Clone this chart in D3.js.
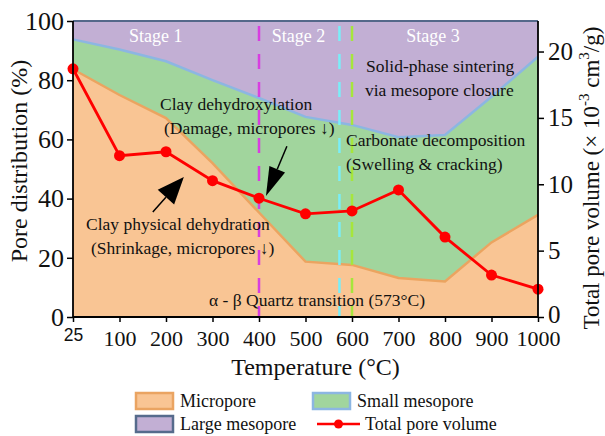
<!DOCTYPE html>
<html>
<head>
<meta charset="utf-8">
<script src="https://cdn.jsdelivr.net/npm/d3@7"></script>
<style>
  html, body { margin: 0; padding: 0; background: #fff; }
  svg { display: block; }
  svg text { font-family: "Liberation Serif", "Tinos", "Times New Roman", "DejaVu Serif", serif; fill: #111; }
</style>
</head>
<body>
<svg id="chart" width="605" height="436"></svg>
<script>
const SERIF = '"Liberation Serif", "Tinos", "Times New Roman", "DejaVu Serif", serif';
const SANS = '"Liberation Sans", Arial, "DejaVu Sans", sans-serif';

// Calcination temperatures (°C)
const temperatures = [25, 100, 200, 300, 400, 500, 600, 700, 800, 900, 1000];
// Pore size distribution (%), per class
const micropore      = [83.7, 75.0, 67.2, 52.0, 35.3, 18.7, 17.6, 13.2, 12.0, 25.2, 34.5];
const smallMesopore  = [10.1, 15.4, 19.2, 28.0, 38.7, 48.9, 47.3, 47.5, 49.5, 49.2, 53.4];
const largeMesopore  = [ 6.2,  9.6, 13.6, 20.0, 26.0, 32.4, 35.1, 39.3, 38.5, 25.6, 12.1];
// Total pore volume (×10^-3 cm^3/g)
const totalVolume    = [18.7, 12.15, 12.45, 10.27, 8.95, 7.77, 7.99, 9.57, 6.02, 3.16, 2.1];
// Axis ticks
const xTicks = [25, 100, 200, 300, 400, 500, 600, 700, 800, 900, 1000];
const yTicks = [0, 20, 40, 60, 80, 100];
const y2Ticks = [0, 5, 10, 15, 20];
// Marked transition temperatures
const transitions = [
  { t: 400, color: "#d83ee0" },
  { t: 573, color: "#7aeef8" },
  { t: 600, color: "#a6e63c" }
];
const stageLabels = [
  { text: "Stage 1", t: 178 },
  { text: "Stage 2", t: 485 },
  { text: "Stage 3", t: 774 }
];

const margin = { top: 21, left: 73 };
const W = 465, H = 296;

const svg = d3.select("#chart");
const g = svg.append("g").attr("transform", `translate(${margin.left},${margin.top})`);

// 25 °C sits on the left edge; from 100 °C on the scale is linear from 0
const x = d3.scaleLinear().domain([25, 100, 1000]).range([0, W * 0.1, W]);
const y = d3.scaleLinear().domain([0, 100]).range([H, 0]);
const y2 = d3.scaleLinear().domain([0, 22.3]).range([H, 0]);

const rows = temperatures.map((t, i) => ({
  t, micro: micropore[i], small: smallMesopore[i], large: largeMesopore[i], vol: totalVolume[i]
}));

const stack = d3.stack().keys(["micro", "small", "large"]);
const layers = stack(rows);
const fills = { micro: "#f9c594", small: "#a1d59d", large: "#c2afd4" };

const area = d3.area()
  .x(d => x(d.data.t))
  .y0(d => y(d[0]))
  .y1(d => y(d[1]));

g.selectAll("path.layer").data(layers).join("path")
  .attr("class", "layer")
  .attr("d", area)
  .attr("fill", d => fills[d.key]);

// Upper boundaries of micropore and small mesopore bands
const topLine = d3.line().x(d => x(d.data.t)).y(d => y(d[1]));
g.append("path").attr("d", topLine(layers[0]))
  .attr("fill", "none").attr("stroke", "#eba460").attr("stroke-width", 2.5);
g.append("path").attr("d", topLine(layers[1]))
  .attr("fill", "none").attr("stroke", "#8cb6e2").attr("stroke-width", 2.5);

// Frame top
g.append("line").attr("x1", 0).attr("x2", W).attr("y1", y(100)).attr("y2", y(100))
  .attr("stroke", "#54688a").attr("stroke-width", 2);

// Transition markers
g.selectAll("line.tr").data(transitions).join("line")
  .attr("class", "tr")
  .attr("x1", d => x(d.t)).attr("x2", d => x(d.t))
  .attr("y1", y(100) + 5).attr("y2", H)
  .attr("stroke", d => d.color).attr("stroke-width", 2.5)
  .attr("stroke-dasharray", "15,13");

// Stage labels
g.selectAll("text.stage").data(stageLabels).join("text")
  .attr("class", "stage")
  .attr("x", d => x(d.t)).attr("y", 15)
  .attr("dy", "0.35em")
  .attr("text-anchor", "middle")
  .style("font-family", SERIF)
  .style("font-size", "18px").style("fill", "#fff")
  .text(d => d.text);

// Annotations
const notes = [
  { lines: ["Solid-phase sintering", "via mesopore closure"], x: 293, y: 45, dx: [0, -1] },
  { lines: ["Carbonate decomposition", "(Swelling & cracking)"], x: 273, y: 119, dx: [0, 0] },
  { lines: ["Clay dehydroxylation", "(Damage, micropores ↓)"], x: 87, y: 83, dx: [0, 4] },
  { lines: ["Clay physical dehydration", "(Shrinkage, micropores ↓)"], x: 13, y: 203, dx: [0, 5] },
  { lines: ["α - β Quartz transition (573°C)"], x: 136, y: 279, dx: [0] }
];
notes.forEach(n => {
  n.lines.forEach((s, i) => {
    g.append("text")
      .attr("x", n.x + n.dx[i]).attr("y", n.y + i * 23.5)
      .attr("dy", "0.35em")
      .attr("text-anchor", "start")
      .style("font-family", SERIF)
      .style("font-size", "17.5px")
      .text(s);
  });
});

// Arrows (tail -> tip, in data coordinates)
const arrows = [
  { from: [171.6, 35.5], to: [238.4, 47.3], headLen: 27, headHalf: 11 },
  { from: [460, 57.7], to: [415, 40.9], headLen: 29, headHalf: 8.5 }
];
arrows.forEach(a => {
  const x1 = x(a.from[0]), y1 = y(a.from[1]);
  const x2 = x(a.to[0]), y2p = y(a.to[1]);
  const ang = Math.atan2(y2p - y1, x2 - x1);
  const bx = x2 - a.headLen * Math.cos(ang), by = y2p - a.headLen * Math.sin(ang);
  g.append("line").attr("x1", x1).attr("y1", y1).attr("x2", bx).attr("y2", by)
    .attr("stroke", "#000").attr("stroke-width", 1.5);
  const px = -Math.sin(ang) * a.headHalf, py = Math.cos(ang) * a.headHalf;
  g.append("path")
    .attr("d", `M${x2},${y2p}L${bx + px},${by + py}L${bx - px},${by - py}Z`)
    .attr("fill", "#000");
});

// Total pore volume line
const volLine = d3.line().x(d => x(d.t)).y(d => y2(d.vol));
g.append("path").attr("d", volLine(rows))
  .attr("fill", "none").attr("stroke", "#ff0000").attr("stroke-width", 2.8);
g.selectAll("circle.vol").data(rows).join("circle")
  .attr("class", "vol")
  .attr("cx", d => x(d.t)).attr("cy", d => y2(d.vol)).attr("r", 5.5)
  .attr("fill", "#ff0000");

// Axes
const xAxis = g.append("g").attr("transform", `translate(0,${H})`)
  .call(d3.axisBottom(x).tickValues(xTicks).tickSize(5).tickPadding(8).tickFormat(d3.format("d")));
const yAxis = g.append("g")
  .call(d3.axisLeft(y).tickValues(yTicks).tickSize(6).tickPadding(3));
const y2Axis = g.append("g").attr("transform", `translate(${W},0)`)
  .call(d3.axisRight(y2).tickValues(y2Ticks).tickSize(6).tickPadding(4));

[xAxis, yAxis, y2Axis].forEach(a => {
  a.attr("font-family", null).attr("font-size", null);
  a.select(".domain").attr("stroke", "#000").attr("stroke-width", 1.8);
  a.selectAll(".tick line").attr("stroke", "#000").attr("stroke-width", 1.5);
  a.selectAll("text").style("fill", "#111").style("font-family", SERIF);
});
xAxis.selectAll("text").style("font-size", "22px");
yAxis.selectAll("text").style("font-size", "26px");
y2Axis.selectAll("text").style("font-size", "25px");
y2Axis.selectAll(".tick").filter(d => d === 0).select("text").attr("dy", "0.2em");
xAxis.selectAll(".tick").filter(d => d === 25).select("text")
  .style("font-family", SANS)
  .style("font-size", "17.5px")
  .attr("dy", "0.62em");

y2Axis.select(".domain").attr("d", `M0,0V${H}`);
yAxis.select(".domain").attr("d", `M0,0V${H}`);
xAxis.select(".domain").attr("d", `M0,0H${W}`);

// Axis titles
svg.append("text")
  .attr("x", margin.left + x(500) + 10).attr("y", 375)
  .attr("text-anchor", "middle")
  .style("font-family", SERIF)
  .style("font-size", "24px")
  .text("Temperature (°C)");

svg.append("text")
  .attr("transform", "translate(27,161) rotate(-90)")
  .attr("text-anchor", "middle")
  .style("font-family", SERIF)
  .style("font-size", "24px")
  .text("Pore distribution (%)");

const rt = svg.append("text")
  .attr("transform", "translate(599,178) rotate(-90)")
  .attr("text-anchor", "middle")
  .style("font-family", SERIF)
  .style("font-size", "23px");
rt.append("tspan").text("Total pore volume (× 10");
rt.append("tspan").attr("dy", -10).style("font-size", "15px").text("-3");
rt.append("tspan").attr("dy", 10).text(" cm");
rt.append("tspan").attr("dy", -10).style("font-size", "15px").text("3");
rt.append("tspan").attr("dy", 10).text("/g)");

// Legend
const legendItems = [
  { label: "Micropore", fill: fills.micro, stroke: "#eaa462", x: 135, y: 392 },
  { label: "Small mesopore", fill: fills.small, stroke: "#8cb6e2", x: 312, y: 392 },
  { label: "Large mesopore", fill: fills.large, stroke: "#566b8c", x: 135, y: 415 }
];
const leg = svg.append("g");
legendItems.forEach(it => {
  leg.append("rect").attr("x", it.x + 1).attr("y", it.y + 1).attr("width", 37).attr("height", 16)
    .attr("fill", it.fill).attr("stroke", it.stroke).attr("stroke-width", 2.5);
  leg.append("text").attr("x", it.x + 45).attr("y", it.y + 9).attr("dy", "0.35em")
    .style("font-family", SERIF)
    .style("font-size", "18px").text(it.label);
});
leg.append("line").attr("x1", 317).attr("x2", 360).attr("y1", 424).attr("y2", 424)
  .attr("stroke", "#ff0000").attr("stroke-width", 2.5);
leg.append("circle").attr("cx", 338.5).attr("cy", 424).attr("r", 4.5).attr("fill", "#ff0000");
leg.append("text").attr("x", 365).attr("y", 424).attr("dy", "0.35em")
  .style("font-family", SERIF)
  .style("font-size", "18px").text("Total pore volume");
</script>
</body>
</html>
